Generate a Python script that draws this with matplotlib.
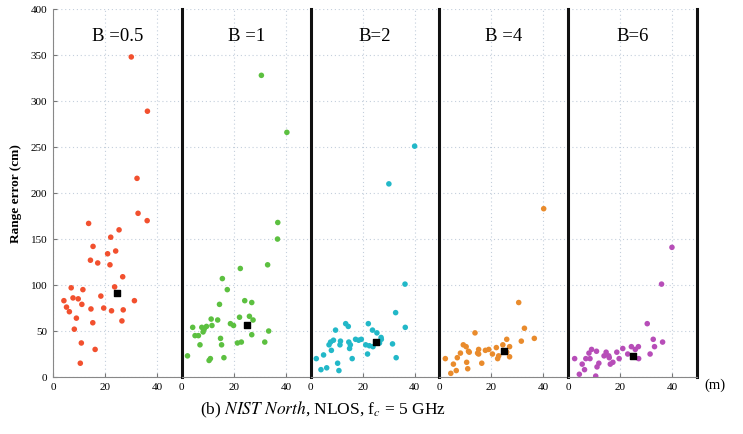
import matplotlib.pyplot as plt

plt.rcParams['font.family'] = ['Liberation Serif', 'DejaVu Serif']
plt.rcParams['mathtext.fontset'] = 'stix'

# bandwidth labels and colours
labels = ['B =0.5', 'B =1', 'B=2', 'B =4', 'B=6']
colors = ['#f2502e', '#5cc040', '#22b8c8', '#e98b2c', '#b74db8']

# distance (m) / range error (cm) for each bandwidth
x05 = [30.1, 36.3, 32.3, 32.7, 36.2, 13.7, 25.4, 22.2, 15.4, 24.1, 21.0, 14.4, 17.2, 21.9,
       26.8, 7.0, 23.7, 11.5, 18.4, 4.2, 7.7, 9.7, 31.3, 11.1, 5.2, 19.5, 14.6, 22.5, 27.0,
       6.3, 9.0, 15.3, 26.5, 8.2, 10.9, 16.2, 10.5]
y05 = [348, 289, 216, 178, 170, 167, 160, 152, 142, 137, 134, 127, 124, 122,
       109, 97, 98, 95, 88, 83, 86, 85, 83, 79, 76, 75, 74, 72, 73,
       71, 64, 59, 61, 52, 37, 30, 15]

x1 = [30.6, 40.4, 36.9, 36.8, 33.0, 22.5, 15.6, 17.5, 24.2, 26.9, 14.5, 11.3, 13.8, 22.2,
      26.0, 27.4, 4.2, 7.7, 9.5, 8.6, 11.6, 18.7, 19.9, 5.1, 6.4, 8.2, 26.9, 33.4, 14.9,
      7.0, 15.3, 22.9, 21.4, 31.9, 2.2, 16.2, 11.0, 10.5]
y1 = [328, 266, 168, 150, 122, 118, 107, 95, 83, 81, 79, 63, 62, 65,
      66, 62, 54, 54, 55, 52, 56, 58, 56, 45, 45, 49, 46, 50, 42,
      35, 35, 38, 37, 38, 23, 21, 20, 18]

x2 = [40.0, 30.1, 36.3, 32.7, 13.5, 14.5, 22.2, 36.4, 9.6, 23.8, 25.5, 8.8, 11.5, 14.7,
      17.3, 19.5, 18.5, 27.1, 27.2, 26.5, 7.7, 7.1, 11.3, 15.3, 21.2, 22.6, 24.0, 31.5,
      15.0, 8.0, 21.9, 5.0, 2.2, 16.0, 32.9, 10.4, 6.2, 4.0, 10.9]
y2 = [251, 210, 101, 70, 58, 55, 58, 54, 51, 51, 48, 40, 39, 38,
      41, 41, 40, 43, 41, 37, 38, 35, 35, 35, 35, 34, 33, 36,
      31, 29, 25, 24, 20, 20, 21, 15, 10, 8, 7]

x4 = [40.1, 30.5, 32.7, 36.5, 31.5, 25.9, 13.7, 9.2, 10.3, 11.5, 15.1, 17.7, 19.0, 21.9,
      24.4, 27.0, 8.1, 6.9, 15.1, 20.4, 22.8, 25.9, 27.0, 22.4, 2.3, 10.5, 16.3, 5.4,
      6.5, 4.4, 10.9, 14.7, 11.2]
y4 = [183, 81, 53, 42, 39, 41, 48, 35, 33, 27, 30, 29, 30, 32,
      35, 33, 26, 21, 25, 25, 23, 27, 22, 20, 20, 16, 15, 14,
      7, 4, 9, 26, 28]

x6 = [39.9, 35.9, 30.4, 32.7, 33.2, 36.3, 31.5, 24.3, 27.0, 25.8, 21.0, 22.9, 27.1, 18.7,
      14.6, 13.8, 15.8, 17.2, 16.2, 19.6, 9.0, 10.9, 8.0, 6.8, 8.4, 11.8, 11.1, 2.5,
      5.4, 6.3, 4.3, 10.6, 15.6]
y6 = [141, 101, 58, 41, 33, 38, 25, 33, 33, 30, 31, 25, 20, 27,
      27, 23, 21, 16, 14, 20, 30, 28, 26, 20, 20, 15, 11, 20,
      14, 8, 3, 1, 23]

xs = [x05, x1, x2, x4, x6]
ys = [y05, y1, y2, y4, y6]

# mean point (black square) per bandwidth
mean_x = [24.7, 25.1, 25.1, 25.0, 24.8]
mean_y = [91, 57, 38, 28, 23]

fig, axes = plt.subplots(1, 5, sharey=True, figsize=(7.43, 4.34), dpi=100)
fig.subplots_adjust(left=0.0713, right=0.938, top=0.979, bottom=0.1313, wspace=0)

for i, ax in enumerate(axes):
    ax.scatter(xs[i], ys[i], s=16, color=colors[i], edgecolors='none', zorder=3)
    ax.scatter([mean_x[i]], [mean_y[i]], s=22, marker='s', color='black', zorder=4)
    ax.set_xlim(0, 49.5)
    ax.set_ylim(0, 400)
    ax.set_xticks([0, 20, 40])
    ax.set_yticks(range(0, 401, 50))
    ax.grid(True, linestyle=(0, (1, 2.5)), color='#c4cfdc', linewidth=0.8)
    ax.tick_params(direction='in', length=3, labelsize=8, color='#777777', pad=4)
    for s in ['top', 'right']:
        ax.spines[s].set_visible(False)
    ax.spines['bottom'].set_color('#888888')
    if i == 0:
        ax.spines['left'].set_color('#888888')
    else:
        ax.spines['left'].set_color('#111111')
        ax.spines['left'].set_linewidth(2.2)
        ax.tick_params(axis='y', length=0)
    ax.text(0.5, 0.925, labels[i], transform=ax.transAxes, ha='center', va='center',
            fontsize=13.5)

axes[-1].axvline(49.5, color='#111111', linewidth=2.2, clip_on=False)
axes[0].set_ylabel('Range error (cm)', fontsize=9.5, fontweight='bold', labelpad=6)

fig.text(0.962, 0.113, '(m)', fontsize=10.5, ha='center', va='center')
fig.text(0.434, 0.055, r'(b) $\it{NIST\ North}$, NLOS, f$_{\it{c}}$ = 5 GHz', fontsize=12.5,
         ha='center', va='center')

fig.savefig('out.png', dpi=100)
